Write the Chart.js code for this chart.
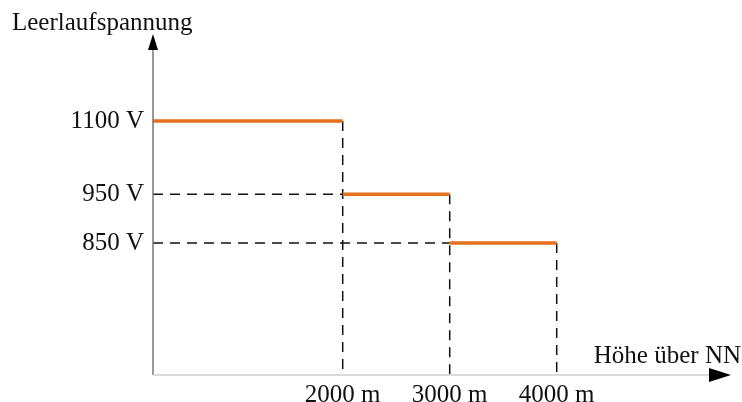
<!DOCTYPE html>
<html>
<head>
<meta charset="utf-8">
<script src="https://cdn.jsdelivr.net/npm/chart.js@4/dist/chart.umd.min.js"></script>
<style>
  html, body { margin: 0; padding: 0; background: #ffffff; }
  #wrap { position: relative; width: 742px; height: 402px; }
</style>
</head>
<body>
<div id="wrap"><canvas id="c"></canvas></div>
<script>
// ---- data ----
const altitudeBreaks = [2000, 3000, 4000];          // m, end of each step
const voltageLimits  = [1100, 950, 850];            // V, max open-circuit voltage per step
const xTickValues = [2000, 3000, 4000];
const xTickLabels = ['2000 m', '3000 m', '4000 m'];
const yTickValues = [850, 950, 1100];
const yTickLabels = ['850 V', '950 V', '1100 V'];
const yAxisTitle = 'Leerlaufspannung';
const xAxisTitle = 'Höhe über NN';
const xRange = [227, 5629];   // schematic axis extent (origin to arrow tip)
const yRange = [580, 1278];

// ---- build datasets ----
const ORANGE = '#E5711E';
const datasets = [];
// dashed guide lines
for (let i = 1; i < voltageLimits.length; i++) {
  datasets.push({
    data: [{x: xRange[0], y: voltageLimits[i]}, {x: altitudeBreaks[i - 1], y: voltageLimits[i]}],
    borderColor: '#111111', borderWidth: 1.5, borderDash: [10, 7], pointRadius: 0, order: 2
  });
}
for (let i = 0; i < altitudeBreaks.length; i++) {
  datasets.push({
    data: [{x: altitudeBreaks[i], y: voltageLimits[i]}, {x: altitudeBreaks[i], y: yRange[0]}],
    borderColor: '#111111', borderWidth: 1.5, borderDash: [10, 7], pointRadius: 0, order: 2
  });
}
// orange steps
for (let i = 0; i < voltageLimits.length; i++) {
  const start = i === 0 ? xRange[0] : altitudeBreaks[i - 1];
  datasets.push({
    data: [{x: start, y: voltageLimits[i]}, {x: altitudeBreaks[i], y: voltageLimits[i]}],
    borderColor: ORANGE, borderWidth: 3.5, pointRadius: 0, order: 1, borderCapStyle: 'butt'
  });
}

const axesPlugin = {
  id: 'axesArrows',
  afterDraw(chart) {
    const {ctx, chartArea: a} = chart;
    ctx.save();
    ctx.strokeStyle = '#777777';
    ctx.lineWidth = 1.5;
    ctx.beginPath();
    ctx.moveTo(a.left, a.bottom);
    ctx.lineTo(a.left, a.top + 14);
    ctx.stroke();
    ctx.strokeStyle = '#cfcfcf';
    ctx.beginPath();
    ctx.moveTo(a.left, a.bottom);
    ctx.lineTo(a.right - 20, a.bottom);
    ctx.stroke();
    ctx.fillStyle = '#000000';
    ctx.beginPath();
    ctx.moveTo(a.left, a.top);
    ctx.lineTo(a.left - 5, a.top + 16);
    ctx.lineTo(a.left + 5, a.top + 16);
    ctx.closePath();
    ctx.fill();
    ctx.beginPath();
    ctx.moveTo(a.right, a.bottom);
    ctx.lineTo(a.right - 22, a.bottom - 7);
    ctx.lineTo(a.right - 22, a.bottom + 7);
    ctx.closePath();
    ctx.fill();
    ctx.fillStyle = '#111111';
    ctx.font = '25px "Liberation Serif", "Times New Roman", serif';
    ctx.textBaseline = 'alphabetic';
    ctx.textAlign = 'left';
    ctx.fillText(yAxisTitle, 12, 30);
    ctx.textAlign = 'right';
    ctx.fillText(xAxisTitle, 741, 363);
    ctx.restore();
  }
};

new Chart(document.getElementById('c'), {
  type: 'line',
  data: { datasets },
  options: {
    responsive: true,
    maintainAspectRatio: false,
    animation: false,
    layout: { padding: { top: 34, right: 11, left: 0, bottom: 0 } },
    plugins: { legend: { display: false }, tooltip: { enabled: false }, title: { display: false } },
    elements: { line: { tension: 0 } },
    scales: {
      x: {
        type: 'linear',
        min: xRange[0], max: xRange[1],
        grid: { display: false, drawTicks: false },
        border: { display: false },
        afterBuildTicks: s => { s.ticks = xTickValues.map(v => ({value: v})); },
        afterFit: s => { s.height = 27; },
        ticks: {
          padding: 5,
          maxRotation: 0,
          autoSkip: false,
          color: '#111111',
          font: { family: '"Liberation Serif", "Times New Roman", serif', size: 25 },
          callback: v => xTickLabels[xTickValues.indexOf(v)]
        }
      },
      y: {
        type: 'linear',
        min: yRange[0], max: yRange[1],
        grid: { display: false, drawTicks: false },
        border: { display: false },
        afterBuildTicks: s => { s.ticks = yTickValues.map(v => ({value: v})); },
        afterFit: s => { s.width = 153; },
        ticks: {
          padding: 9,
          autoSkip: false,
          color: '#111111',
          font: { family: '"Liberation Serif", "Times New Roman", serif', size: 25 },
          callback: v => yTickLabels[yTickValues.indexOf(v)]
        }
      }
    }
  },
  plugins: [axesPlugin]
});
</script>
</body>
</html>
